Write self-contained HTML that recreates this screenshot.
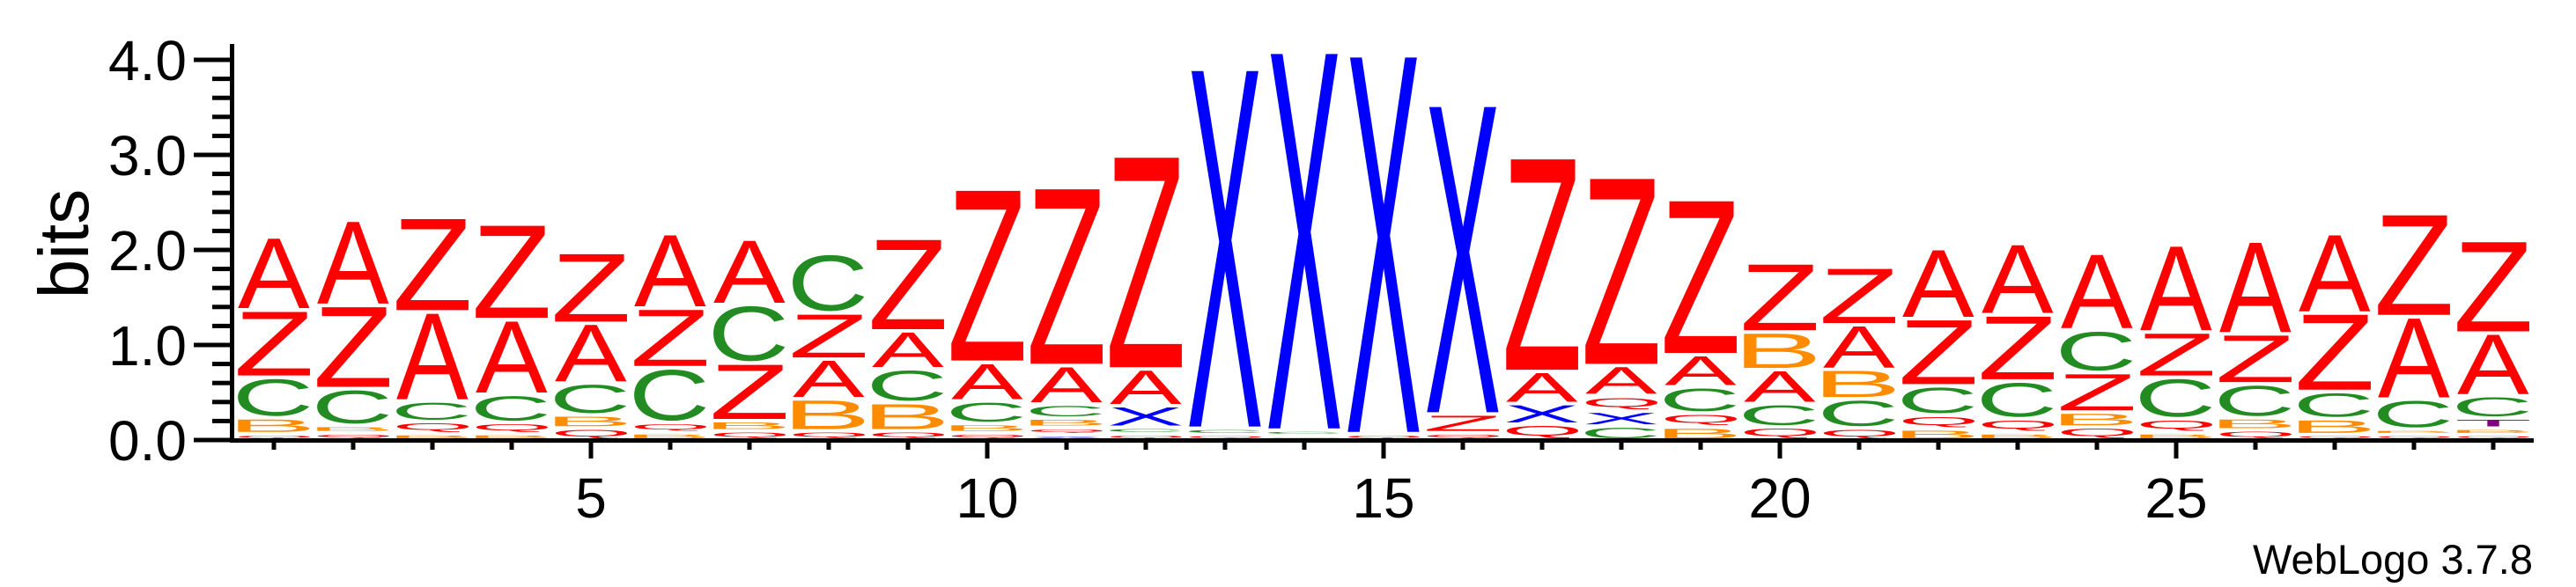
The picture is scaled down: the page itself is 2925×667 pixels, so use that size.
<!DOCTYPE html>
<html><head><meta charset="utf-8"><style>
html,body{margin:0;padding:0;background:#fff;}
svg{display:block;}
text{font-family:"Liberation Sans",sans-serif;}
</style></head><body>
<svg id="logo" width="2925" height="667" viewBox="0 0 2925 667" xmlns="http://www.w3.org/2000/svg">
<g id="stacks"></g>
<g id="axes"></g>
<text transform="translate(100,277) rotate(-90)" text-anchor="middle" font-size="80">bits</text>
<text x="2876" y="652" text-anchor="end" font-size="47">WebLogo 3.7.8</text>
</svg>
<script>
// Per-column information (bits) for each letter, positions 1..29
const positions = [1,2,3,4,5,6,7,8,9,10,11,12,13,14,15,16,17,18,19,20,21,22,23,24,25,26,27,28,29];
const valsA = [0.73,0.86,0.90,0.75,0.59,0.75,0.65,0.38,0.36,0.37,0.37,0.35,0,0,0,0,0.30,0.28,0.30,0.32,0.43,0.70,0.71,0.77,0.88,0.94,0.80,0.83,0.62];
const valsZ = [0.67,0.84,0.96,0.97,0.71,0.59,0.57,0.45,0.94,1.79,1.84,2.21,0,0,0,0.16,2.22,1.95,1.60,0.69,0.57,0.67,0.66,0.38,0.44,0.49,0.79,1.05,0.94];
const valsC = [0.39,0.35,0.18,0.26,0.30,0.54,0.58,0.59,0.32,0.20,0.11,0.03,0.03,0.02,0,0,0,0.11,0.24,0.21,0.27,0.27,0.36,0.41,0.40,0.32,0.25,0.28,0.20];
const valsB = [0.13,0.04,0.03,0.03,0.10,0.04,0.07,0.30,0.26,0.06,0.06,0,0,0,0,0,0,0,0.10,0.36,0.275,0.08,0.04,0.12,0.04,0.09,0.13,0.02,0.03];
const valsQ = [0.03,0.04,0.09,0.08,0.09,0.07,0.06,0.06,0.06,0.04,0.04,0.03,0.02,0.01,0.03,0.04,0.13,0.125,0.11,0.10,0.09,0.11,0.11,0.10,0.11,0.07,0.02,0.02,0.02];
const valsX = [0,0,0,0,0,0,0,0,0,0,0.02,0.19,3.75,3.95,3.95,3.22,0.18,0.12,0,0,0,0,0,0,0,0,0,0,0];
const valsT = [0,0,0,0,0,0,0,0,0,0,0,0,0,0,0,0,0,0,0,0,0,0,0,0,0,0,0,0,0.07];
const yTicks = [0,1,2,3,4];
const yTickLabels = ["0.0","1.0","2.0","3.0","4.0"];
const xLabelPositions = [5,10,15,20,25];

const NS = "http://www.w3.org/2000/svg";
const colors = {A:"#ff0000",Z:"#ff0000",Q:"#ff0000",C:"#228b22",B:"#ff8c00",X:"#0000ff",T:"#800080"};
const series = {A:valsA,Z:valsZ,C:valsC,B:valsB,Q:valsQ,X:valsX,T:valsT};
const letterOrder = ["Q","B","X","T","C","A","Z"];

const Y0 = 500, PX_PER_BIT = 108, GAP = 4, BASE_GAP = 2;
function yScale(v){ return Y0 - v*PX_PER_BIT; }
function xScale(p){ return 311 + (p-1)*90; }
const LETTER_W = 82;

const cv = document.createElement("canvas").getContext("2d");
cv.font = "100px 'Liberation Sans'";
const metrics = {};
function m(ch){
  if(!metrics[ch]){
    const t = cv.measureText(ch);
    metrics[ch] = {L:t.actualBoundingBoxLeft,R:t.actualBoundingBoxRight,A:t.actualBoundingBoxAscent,D:t.actualBoundingBoxDescent};
  }
  return metrics[ch];
}

const stacks = document.getElementById("stacks");
positions.forEach((p,i)=>{
  const items = letterOrder.map((l,k)=>({l:l,v:series[l][i],k:k})).filter(d=>d.v>0);
  items.sort((a,b)=> a.v-b.v || a.k-b.k);
  const g = document.createElementNS(NS,"g");
  
  
  let acc = 0;
  let off = BASE_GAP;
  const cx = xScale(p);
  items.forEach(d=>{
    const bot = yScale(acc) - off;
    const top = yScale(acc + d.v) - off;
    acc += d.v;
    off += GAP;
    const h = bot - top;
    const mt = m(d.l);
    const sx = LETTER_W/(mt.L+mt.R), sy = h/(mt.A+mt.D);
    const bx = cx - LETTER_W/2;
    const t = document.createElementNS(NS,"text");
    
    
    t.setAttribute("font-size","100");
    t.setAttribute("fill",colors[d.l]);
    t.setAttribute("transform","translate("+(bx+mt.L*sx)+","+(top+mt.A*sy)+") scale("+sx+","+sy+")");
    t.textContent = d.l;
    g.appendChild(t);
  });
  stacks.appendChild(g);
});

const axes = document.getElementById("axes");
function rect(x,y,w,h,name){
  const r = document.createElementNS(NS,"rect");
  r.setAttribute("x",x);r.setAttribute("y",y);r.setAttribute("width",w);r.setAttribute("height",h);r.setAttribute("fill","#000");
  
  
  axes.appendChild(r);
}
rect(261,50,5,453,"y-axis-line");
rect(266,498,2611,5,"x-axis-line");
for(let v=0; v<=4.0001; v+=0.2){
  const major = Math.abs(v-Math.round(v))<1e-6;
  const y = yScale(v);
  rect(major?220:241, y-2.5, major?43:22, 5, major?"y-major-tick":"y-minor-tick");
}
yTicks.forEach((v,i)=>{
  const t = document.createElementNS(NS,"text");
  
  
  t.setAttribute("x",212);t.setAttribute("y",yScale(v)+23);
  t.setAttribute("text-anchor","end");t.setAttribute("font-size","64");
  t.textContent = yTickLabels[i];
  axes.appendChild(t);
});
positions.forEach(p=>{
  const major = xLabelPositions.indexOf(p)>=0;
  rect(xScale(p)-2.5, 503, 5, major?18:8, major?"x-major-tick":"x-minor-tick");
});
xLabelPositions.forEach(p=>{
  const t = document.createElementNS(NS,"text");
  
  
  t.setAttribute("x",xScale(p));t.setAttribute("y",588);
  t.setAttribute("text-anchor","middle");t.setAttribute("font-size","64");
  t.textContent = String(p);
  axes.appendChild(t);
});
</script>
</body></html>
